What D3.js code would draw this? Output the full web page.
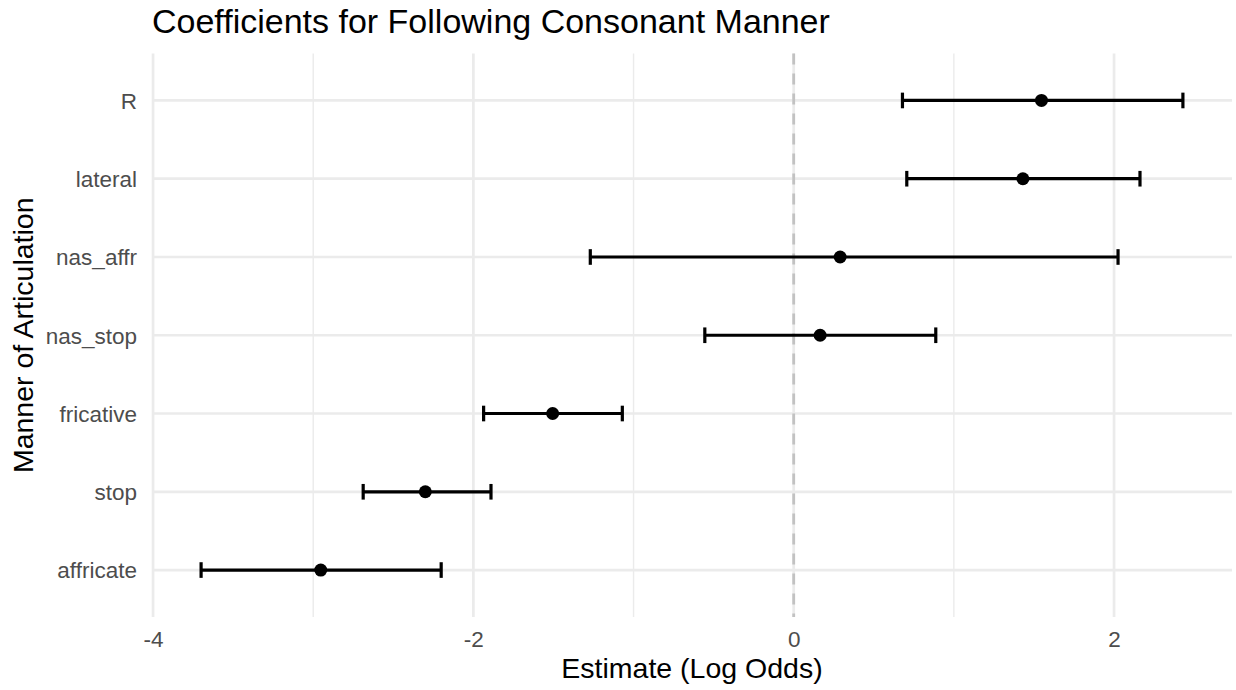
<!DOCTYPE html>
<html>
<head>
<meta charset="utf-8">
<script src="https://cdn.jsdelivr.net/npm/d3@7"></script>
<style>
  html, body { margin: 0; padding: 0; background: #fff; }
  svg { display: block; font-family: "Liberation Sans", Arial, Helvetica, sans-serif; }
</style>
</head>
<body>
<svg id="chart" width="1236" height="690"></svg>
<script>
// Data (top to bottom order of the axis: affricate at bottom, R at top)
const categories = ["affricate", "stop", "fricative", "nas_stop", "nas_affr", "lateral", "R"];
const estimates  = [-2.953, -2.300, -1.505, 0.165, 0.290, 1.431, 1.547];
const lowerCI    = [-3.700, -2.688, -1.936, -0.555, -1.270, 0.706, 0.679];
const upperCI    = [-2.201, -1.890, -1.070, 0.887, 2.025, 2.162, 2.430];
const xTicks     = [-4, -2, 0, 2];
const xTickLabels = ["-4", "-2", "0", "2"];
const xMinorTicks = [-3, -1, 1];
const titleText  = "Coefficients for Following Consonant Manner";
const xTitle     = "Estimate (Log Odds)";
const yTitle     = "Manner of Articulation";

const rows = categories.map((c, i) => ({cat: c, est: estimates[i], lo: lowerCI[i], hi: upperCI[i], pos: i + 1}));

const svg = d3.select("#chart");
const panel = {left: 152, right: 1232, top: 53.5, bottom: 617};

const lo = d3.min(lowerCI), hi = d3.max(upperCI);
const pad = (hi - lo) * 0.05;
const x = d3.scaleLinear().domain([lo - pad, hi + pad]).range([panel.left, panel.right]);
const y = d3.scaleLinear().domain([0.4, categories.length + 0.6]).range([panel.bottom, panel.top]);

const grid = svg.append("g");
// minor vertical gridlines
grid.selectAll(".minor").data(xMinorTicks).join("line")
  .attr("x1", d => x(d)).attr("x2", d => x(d))
  .attr("y1", panel.top).attr("y2", panel.bottom)
  .attr("stroke", "#EBEBEB").attr("stroke-width", 1.4);
// major vertical gridlines
grid.selectAll(".majorx").data(xTicks).join("line")
  .attr("x1", d => x(d)).attr("x2", d => x(d))
  .attr("y1", panel.top).attr("y2", panel.bottom)
  .attr("stroke", "#EBEBEB").attr("stroke-width", 2.7);
// major horizontal gridlines
grid.selectAll(".majory").data(rows).join("line")
  .attr("x1", panel.left).attr("x2", panel.right)
  .attr("y1", d => y(d.pos)).attr("y2", d => y(d.pos))
  .attr("stroke", "#EBEBEB").attr("stroke-width", 2.7);

// zero reference line
svg.append("line")
  .attr("x1", x(0)).attr("x2", x(0))
  .attr("y1", panel.top).attr("y2", panel.bottom)
  .attr("stroke", "#C2C2C2").attr("stroke-width", 2.8)
  .attr("stroke-dasharray", "11,9");

// error bars
const capH = 0.2 * (y(0) - y(1)) / 2;
const eb = svg.append("g").selectAll("g").data(rows).join("g");
eb.append("line")
  .attr("x1", d => x(d.lo)).attr("x2", d => x(d.hi))
  .attr("y1", d => y(d.pos)).attr("y2", d => y(d.pos))
  .attr("stroke", "#000").attr("stroke-width", 3.2);
eb.append("line")
  .attr("x1", d => x(d.lo)).attr("x2", d => x(d.lo))
  .attr("y1", d => y(d.pos) - capH).attr("y2", d => y(d.pos) + capH)
  .attr("stroke", "#000").attr("stroke-width", 3.2);
eb.append("line")
  .attr("x1", d => x(d.hi)).attr("x2", d => x(d.hi))
  .attr("y1", d => y(d.pos) - capH).attr("y2", d => y(d.pos) + capH)
  .attr("stroke", "#000").attr("stroke-width", 3.2);
eb.append("circle")
  .attr("cx", d => x(d.est)).attr("cy", d => y(d.pos))
  .attr("r", 6.5).attr("fill", "#000");

// x axis tick labels
const xAxis = d3.axisBottom(x).tickValues(xTicks).tickSize(0).tickPadding(0)
  .tickFormat((d, i) => xTickLabels[i]);
const xg = svg.append("g").attr("transform", `translate(0,${panel.bottom})`).call(xAxis);
xg.select(".domain").remove();
xg.selectAll("text")
  .attr("y", 30).attr("dy", null)
  .attr("font-size", 22.5).attr("fill", "#4D4D4D")
  .attr("font-family", '"Liberation Sans", Arial, Helvetica, sans-serif');

// y axis tick labels
const yAxis = d3.axisLeft(y).tickValues(rows.map(d => d.pos)).tickSize(0).tickPadding(0)
  .tickFormat(p => categories[p - 1]);
const yg = svg.append("g").attr("transform", `translate(137,0)`).call(yAxis);
yg.select(".domain").remove();
yg.selectAll("text")
  .attr("dy", "0.35em")
  .attr("font-size", 22.5).attr("fill", "#4D4D4D")
  .attr("font-family", '"Liberation Sans", Arial, Helvetica, sans-serif');

// titles
svg.append("text")
  .attr("x", panel.left).attr("y", 33)
  .attr("font-size", 34).attr("fill", "#000")
  .text(titleText);

svg.append("text")
  .attr("x", (panel.left + panel.right) / 2).attr("y", 678)
  .attr("text-anchor", "middle")
  .attr("font-size", 28.5).attr("fill", "#000")
  .text(xTitle);

svg.append("text")
  .attr("transform", `translate(33,${(panel.top + panel.bottom) / 2}) rotate(-90)`)
  .attr("text-anchor", "middle")
  .attr("font-size", 28.5).attr("fill", "#000")
  .text(yTitle);
</script>
</body>
</html>
